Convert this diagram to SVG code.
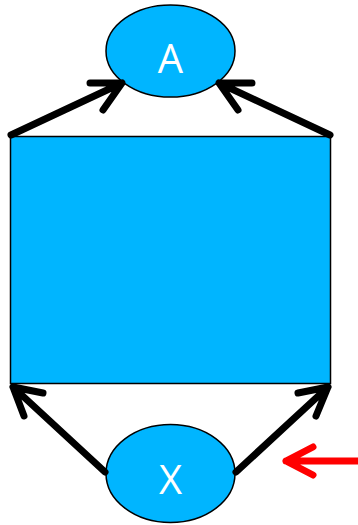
<svg xmlns="http://www.w3.org/2000/svg" width="358" height="525" viewBox="0 0 358 525">
<style>
.node{fill:#00b5ff;stroke:#000;stroke-width:1.5}
.lbl{fill:#fff;font-family:"Open Sans","DejaVu Sans",sans-serif;font-size:40px;text-anchor:middle}
.edge{fill:none;stroke:#000;stroke-width:7;stroke-linecap:round;stroke-linejoin:round}
.red{fill:none;stroke:#ff0000;stroke-width:7;stroke-linecap:round;stroke-linejoin:round}
</style>
<rect width="358" height="525" fill="#fff"/>
<g id="rect"><rect class="node" x="10.5" y="136.5" width="320" height="247"/></g>
<g id="A"><ellipse class="node" cx="170.5" cy="51" rx="64.5" ry="46"/><text class="lbl" x="170.5" y="73">A</text></g>
<g id="X"><ellipse class="node" cx="170.5" cy="473.5" rx="64.5" ry="49"/><text class="lbl" x="170.5" y="494">X</text></g>
<g id="connectors">
<path class="edge" d="M11,135 L122,83 M90,83 L122,83 L103,110"/>
<path class="edge" d="M330,135 L219,83 M252,83 L219,83 L238,110"/>
<path class="edge" d="M105,472 L13,387 M43,393 L13,387 L24,416"/>
<path class="edge" d="M236,472 L328,387 M298,393 L328,387 L316,416"/>
<path class="red" d="M358,461 L286,461 M313,447 L286,461 L313,475"/>
</g>
</svg>
